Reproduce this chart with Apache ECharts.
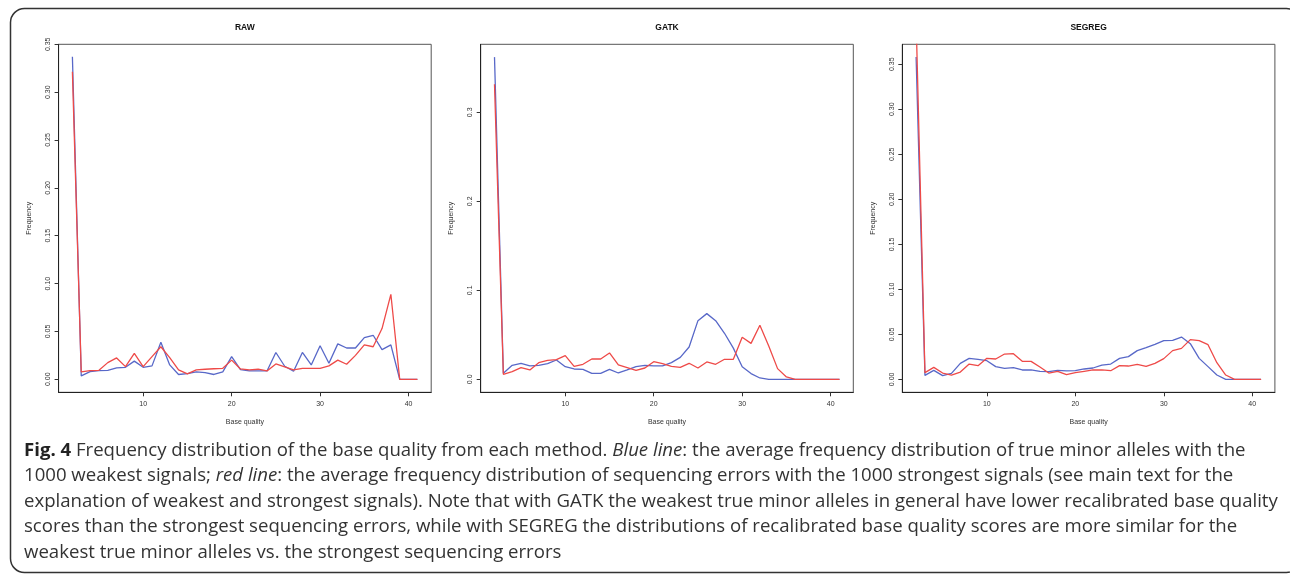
<!DOCTYPE html>
<html>
<head>
<meta charset="utf-8">
<script src="https://cdn.jsdelivr.net/npm/echarts@6/dist/echarts.min.js"></script>
<style>
  html, body { margin: 0; padding: 0; background: #fff; }
  #chart { width: 1290px; height: 576px; }
</style>
</head>
<body>
<div id="chart"></div>
<script>
// base quality scores 2..41
const quality = [2, 3, 4, 5, 6, 7, 8, 9, 10, 11, 12, 13, 14, 15, 16, 17, 18, 19, 20, 21,
  22, 23, 24, 25, 26, 27, 28, 29, 30, 31, 32, 33, 34, 35, 36, 37, 38, 39, 40, 41]

const panelTitles = ['RAW', 'GATK', 'SEGREG']
const xTicks = [10, 20, 30, 40]
const rawYTicks = [0, 0.05, 0.1, 0.15, 0.2, 0.25, 0.3, 0.35]
const gatkYTicks = [0, 0.1, 0.2, 0.3]
const segregYTicks = [0, 0.05, 0.1, 0.15, 0.2, 0.25, 0.3, 0.35]

// blue: true minor alleles (1000 weakest), red: sequencing errors (1000 strongest)
const rawBlue = [0.337, 0.0035, 0.008, 0.009, 0.0094, 0.012, 0.0125, 0.019, 0.0125, 0.014,
  0.0387, 0.015, 0.005, 0.006, 0.0077, 0.007, 0.005, 0.0077, 0.0237, 0.010,
  0.0087, 0.0087, 0.0087, 0.028, 0.0136, 0.0084, 0.028, 0.015, 0.035, 0.0167,
  0.037, 0.0327, 0.0327, 0.0435, 0.046, 0.031, 0.036, 0, 0, 0]
const rawRed = [0.3214, 0.0077, 0.009, 0.0094, 0.0174, 0.0223, 0.0132, 0.027, 0.0132, 0.0237,
  0.034, 0.0226, 0.0098, 0.0056, 0.0098, 0.0105, 0.011, 0.0115, 0.020, 0.0108,
  0.0098, 0.0105, 0.0087, 0.016, 0.0129, 0.0098, 0.0115, 0.0115, 0.0115, 0.014,
  0.020, 0.0157, 0.025, 0.036, 0.034, 0.053, 0.0888, 0, 0, 0]

const gatkBlue = [0.362, 0.0067, 0.0157, 0.018, 0.015, 0.0157, 0.0176, 0.0217, 0.0142, 0.0116,
  0.0112, 0.0067, 0.0067, 0.0112, 0.0071, 0.0105, 0.0142, 0.0157, 0.015, 0.015,
  0.0187, 0.0247, 0.0363, 0.0659, 0.0738, 0.0659, 0.0517, 0.035, 0.0142, 0.0064,
  0.0015, 0, 0, 0, 0, 0, 0, 0, 0, 0]
const gatkRed = [0.3315, 0.0056, 0.0086, 0.0131, 0.0105, 0.0187, 0.0213, 0.0221, 0.0266, 0.0146,
  0.0169, 0.0228, 0.0228, 0.0296, 0.0161, 0.0131, 0.0101, 0.0127, 0.0198, 0.0176,
  0.0146, 0.0135, 0.018, 0.0127, 0.0195, 0.0169, 0.0225, 0.0225, 0.0472, 0.0404,
  0.0607, 0.0375, 0.012, 0.0026, 0, 0, 0, 0, 0, 0]

const segregBlue = [0.358, 0.0044, 0.010, 0.0041, 0.0067, 0.0178, 0.0233, 0.0222, 0.0207, 0.0141,
  0.0122, 0.013, 0.0104, 0.0104, 0.0089, 0.0085, 0.010, 0.0093, 0.0096, 0.0115,
  0.0126, 0.0159, 0.017, 0.0233, 0.0252, 0.0319, 0.0352, 0.0389, 0.043, 0.0433,
  0.047, 0.0396, 0.0233, 0.0141, 0.0048, 0, 0, 0, 0, 0]
const segregRed = [0.40, 0.0074, 0.0133, 0.007, 0.0048, 0.0081, 0.017, 0.0152, 0.0233, 0.0226,
  0.0281, 0.0285, 0.020, 0.020, 0.0137, 0.007, 0.0089, 0.0052, 0.0074, 0.0089,
  0.0104, 0.0104, 0.0096, 0.0152, 0.0148, 0.0167, 0.0144, 0.0178, 0.023, 0.0319,
  0.0344, 0.0441, 0.043, 0.0385, 0.0185, 0.0048, 0, 0, 0, 0]

const pairs = (vals) => quality.map((q, i) => [q, vals[i]])

// R style axis range: data range + 4% on each side
const xMin = 2 - 0.04 * 39
const xMax = 41 + 0.04 * 39

const panels = [
  { left: 58.6, yMin: -0.0136, yMax: 0.3500, ticks: rawYTicks, digits: 2, blue: rawBlue, red: rawRed },
  { left: 480.7, yMin: -0.0146, yMax: 0.3764, ticks: gatkYTicks, digits: 1, blue: gatkBlue, red: gatkRed },
  { left: 902.3, yMin: -0.0144, yMax: 0.3722, ticks: segregYTicks, digits: 2, blue: segregBlue, red: segregRed },
]
const plotW = 372.6
const plotTop = 44.3
const plotH = 348

const font = 'Liberation Sans, Arial, sans-serif'
const blue = '#5868c8'
const red = '#ee4a48'

const grids = []
const xAxes = []
const yAxes = []
const series = []
const graphics = []

panels.forEach((p, i) => {
  grids.push({
    left: p.left, top: plotTop, width: plotW, height: plotH,
    show: true, borderColor: '#555', borderWidth: 1, backgroundColor: 'transparent',
  })
  xAxes.push({
    gridIndex: i, type: 'value', min: xMin, max: xMax,
    axisLine: { show: true, onZero: false, lineStyle: { color: '#222', width: 1 } },
    axisTick: { show: true, customValues: xTicks, length: 4, lineStyle: { color: '#333' } },
    axisLabel: { customValues: xTicks, fontSize: 7, margin: 8, color: '#333', fontFamily: font },
    splitLine: { show: false },
    name: 'Base quality', nameLocation: 'middle', nameGap: 26,
    nameTextStyle: { fontSize: 7, color: '#333', fontFamily: font },
  })
  yAxes.push({
    gridIndex: i, type: 'value', min: p.yMin, max: p.yMax,
    axisLine: { show: true, onZero: false, lineStyle: { color: '#222', width: 1 } },
    axisTick: { show: true, customValues: p.ticks, length: 4, lineStyle: { color: '#333' } },
    axisLabel: {
      customValues: p.ticks, fontSize: 7, margin: 7, rotate: 90, color: '#333', fontFamily: font,
      formatter: (v) => Number(v).toFixed(p.digits),
    },
    splitLine: { show: false },
    name: 'Frequency', nameLocation: 'middle', nameGap: 26, nameRotate: 90,
    nameTextStyle: { fontSize: 7, color: '#333', fontFamily: font },
  })
  series.push({
    type: 'line', xAxisIndex: i, yAxisIndex: i, data: pairs(p.blue),
    showSymbol: false, symbol: 'none', clip: true, animation: false,
    lineStyle: { color: blue, width: 1.3 },
  })
  series.push({
    type: 'line', xAxisIndex: i, yAxisIndex: i, data: pairs(p.red),
    showSymbol: false, symbol: 'none', clip: true, animation: false,
    lineStyle: { color: red, width: 1.3 },
  })
  graphics.push({
    type: 'text', x: p.left + plotW / 2, y: 28,
    style: {
      text: panelTitles[i], fill: '#111', font: 'bold 8.5px ' + font,
      textAlign: 'center', textVerticalAlign: 'middle',
    },
  })
})

// outer frame
graphics.push({
  type: 'rect', z: -1,
  shape: { x: 10.5, y: 8.5, width: 1290, height: 564, r: 14 },
  style: { fill: 'none', stroke: '#333', lineWidth: 1.5 },
})

// caption
const caption = [
  '{b|Fig. 4} Frequency distribution of the base quality from each method. {i|Blue line}: the average frequency distribution of true minor alleles with the',
  '1000 weakest signals; {i|red line}: the average frequency distribution of sequencing errors with the 1000 strongest signals (see main text for the',
  'explanation of weakest and strongest signals). Note that with GATK the weakest true minor alleles in general have lower recalibrated base quality',
  'scores than the strongest sequencing errors, while with SEGREG the distributions of recalibrated base quality scores are more similar for the',
  'weakest true minor alleles vs. the strongest sequencing errors',
].join('\n')
const capFont = 'Open Sans, Noto Sans, sans-serif'
const capSize = 18.6
graphics.push({
  type: 'text', x: 24, y: 438,
  style: {
    text: caption, fill: '#333', fontFamily: capFont, fontSize: capSize, lineHeight: 25.4,
    rich: {
      b: { fontFamily: capFont, fontSize: capSize, fontWeight: 'bold', fill: '#222', lineHeight: 25.4 },
      i: { fontFamily: capFont, fontSize: capSize, fontStyle: 'italic', fill: '#333', lineHeight: 25.4 },
    },
  },
})

const chart = echarts.init(document.getElementById('chart'), null, { renderer: 'canvas' })
chart.setOption({
  animation: false,
  textStyle: { fontFamily: font },
  grid: grids,
  xAxis: xAxes,
  yAxis: yAxes,
  series: series,
  graphic: graphics,
})
</script>
</body>
</html>
